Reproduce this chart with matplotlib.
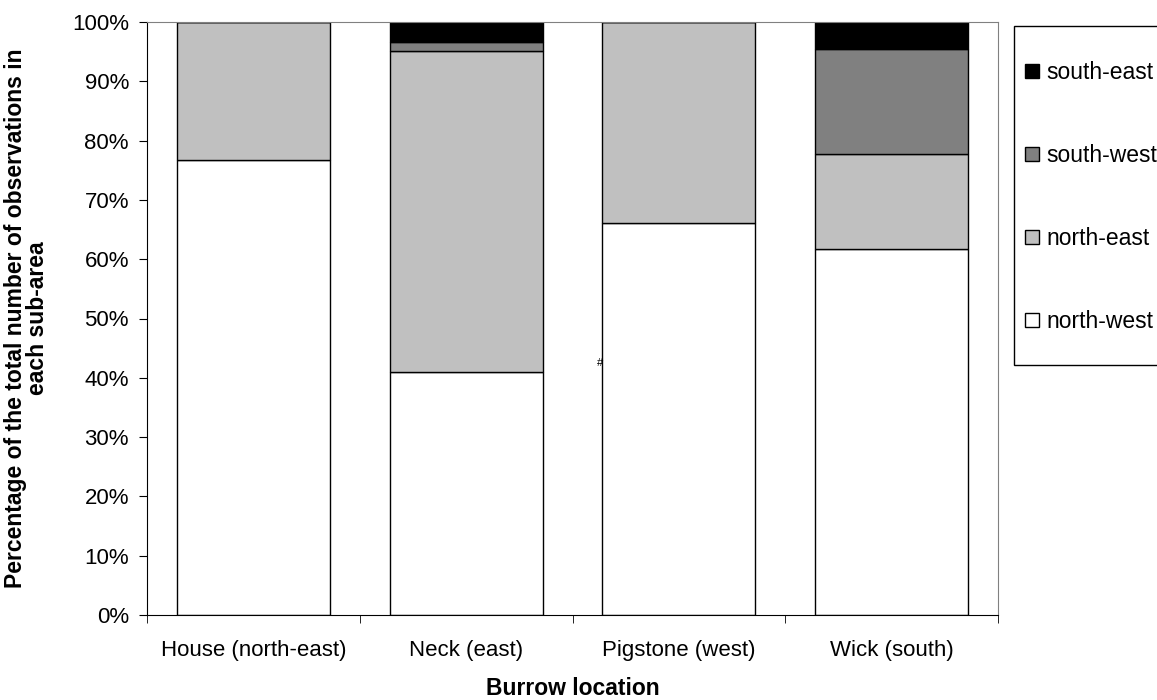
import matplotlib.pyplot as plt
from matplotlib.patches import Rectangle
import numpy as np

plt.rcParams['font.family'] = ['Liberation Sans', 'DejaVu Sans']

locations = ["House (north-east)", "Neck (east)", "Pigstone (west)", "Wick (south)"]
north_west = [76.8, 41.0, 66.1, 61.8]
north_east = [23.2, 54.1, 33.9, 16.0]
south_west = [0.0, 1.5, 0.0, 17.6]
south_east = [0.0, 3.4, 0.0, 4.6]

series = [("north-west", north_west, "white"),
          ("north-east", north_east, "#c0c0c0"),
          ("south-west", south_west, "#808080"),
          ("south-east", south_east, "black")]

fs = 16

fig = plt.figure(figsize=(11.57, 7.0), dpi=100)
ax = fig.add_axes([147 / 1157, 1 - 615 / 700, (998 - 147) / 1157, (615 - 22) / 700])

x = np.arange(len(locations))
bottom = np.zeros(len(locations))
handles = []
for name, vals, col in series:
    vals = np.array(vals)
    b = ax.bar(x, vals, 0.72, bottom=bottom, color=col, edgecolor="black",
               linewidth=1, label=name)
    handles.append(b)
    bottom += vals

ax.set_xlim(-0.5, 3.5)
ax.set_ylim(0, 100)
ax.set_yticks(np.arange(0, 101, 10))
ax.set_yticklabels([f"{v}%" for v in range(0, 101, 10)])
ax.set_xticks(x)
ax.set_xticklabels(locations)
ax.set_xticks(np.arange(-0.5, 4, 1), minor=True)
ax.tick_params(axis="x", which="major", length=0, pad=18, labelsize=fs)
ax.tick_params(axis="x", which="minor", length=6, direction="out")
ax.tick_params(axis="y", length=6, direction="out", labelsize=fs, pad=7)

for s in ["top", "right"]:
    ax.spines[s].set_color("#808080")
for s in ["left", "bottom"]:
    ax.spines[s].set_color("black")

ax.set_ylabel("Percentage of the total number of observations in\neach sub-area",
              fontsize=16.5, fontweight="bold", linespacing=0.95)
ax.yaxis.set_label_coords(-0.115, 0.5)
ax.set_xlabel("Burrow location", fontsize=16.5, fontweight="bold")
ax.xaxis.set_label_coords(0.5, -0.104)

fig.text(600 / 1157, 1 - 363 / 700, "#", fontsize=8, ha="center", va="center")

# legend frame drawn by hand, it runs past the right edge as in the source
fig.patches.append(Rectangle((1014 / 1157, 1 - 365 / 700), 200 / 1157, (365 - 26) / 700,
                             transform=fig.transFigure, facecolor="white",
                             edgecolor="black", linewidth=1, zorder=1))
leg = fig.legend(handles[::-1], [s[0] for s in series][::-1],
                 loc="center left", bbox_to_anchor=(1025 / 1157, 1 - 197 / 700),
                 fontsize=16.5, frameon=False, labelspacing=2.62,
                 borderpad=0, handlelength=0.6, handleheight=0.6,
                 handletextpad=0.35, borderaxespad=0)

plt.savefig("out.png", dpi=100)
